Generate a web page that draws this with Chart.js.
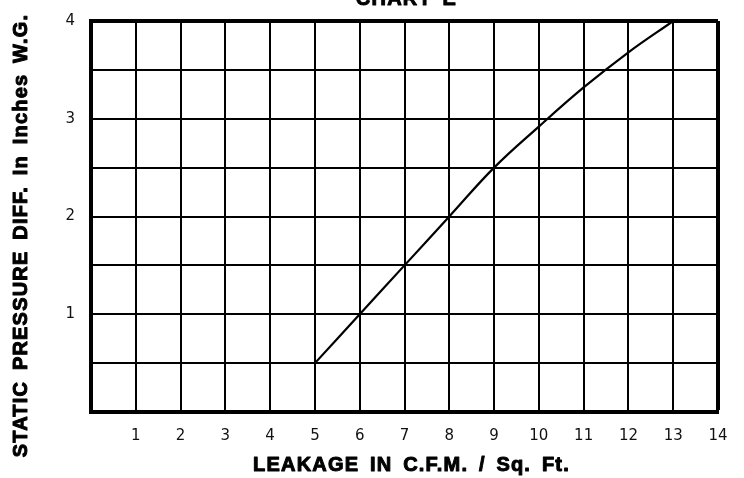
<!DOCTYPE html>
<html lang="en">
<head>
  <meta charset="UTF-8" />
  <title>Chart E</title>
  <script src="https://cdn.jsdelivr.net/npm/chart.js"></script>
  <style>
    html, body { margin: 0; padding: 0; background: #fff; overflow: hidden; }
    .wrap { position: absolute; left: 0; top: -12px; width: 744px; height: 490px; }
  </style>
</head>
<body>
  <div class="wrap"><canvas id="chartE"></canvas></div>

  <script>
    // leakage (CFM / sq ft) vs static pressure diff (in. W.G.)
    const leakage = [5, 6, 7, 8, 9, 10, 11, 12, 13];
    const pressure = [0.5, 1.0, 1.5, 2.0, 2.5, 2.92, 3.32, 3.68, 4.0];
    const xTicks = [1, 2, 3, 4, 5, 6, 7, 8, 9, 10, 11, 12, 13, 14];
    const yTicks = [1, 2, 3, 4];

    const chartTitle = "CHART E";
    const xTitle = "LEAKAGE IN C.F.M. / Sq. Ft.";
    const yTitle = "STATIC PRESSURE DIFF. In Inches W.G.";

    // the heavy, widely spaced labels are drawn by hand so they sit where the original has them
    const headings = {
      id: "headings",
      afterDraw(chart) {
        const ctx = chart.ctx;
        const area = chart.chartArea;
        const put = (text, x, y) => {
          ctx.fillText(text, x, y);
          ctx.strokeText(text, x, y);
        };
        ctx.save();
        ctx.fillStyle = "#000";
        ctx.strokeStyle = "#000";
        ctx.lineWidth = 1;
        ctx.lineJoin = "round";
        ctx.font = 'bold 20px "Liberation Sans", Arial, sans-serif';
        ctx.letterSpacing = "1.2px";
        ctx.wordSpacing = "4px";
        ctx.textAlign = "center";
        ctx.textBaseline = "alphabetic";
        const midX = (area.left + area.right) / 2;
        put(chartTitle, midX + 2, area.top - 16);
        put(xTitle, midX + 7, area.bottom + 59);
        ctx.translate(27, (area.top + area.bottom) / 2 + 19);
        ctx.rotate(-Math.PI / 2);
        put(yTitle, 0, 0);
        ctx.restore();
      },
    };

    new Chart(document.getElementById("chartE"), {
      type: "line",
      data: {
        datasets: [{
          data: leakage.map((x, i) => ({ x: x, y: pressure[i] })),
          borderColor: "#000",
          borderWidth: 2.2,
          pointRadius: 0,
          tension: 0.4,
          fill: false,
        }],
      },
      plugins: [headings],
      options: {
        responsive: true,
        maintainAspectRatio: false,
        animation: false,
        layout: { padding: { top: 33, right: 26, left: 0, bottom: 0 } },
        plugins: {
          legend: { display: false },
          tooltip: { enabled: false },
        },
        scales: {
          x: {
            type: "linear",
            min: 0,
            max: 14,
            afterFit: (s) => { s.height = 66; },
            ticks: {
              stepSize: 1,
              color: "#111",
              padding: 15,
              maxRotation: 0,
              font: { family: "DejaVu Sans", size: 15 },
              callback: (v) => (xTicks.includes(v) ? v : ""),
            },
            grid: {
              color: "#000",
              drawTicks: false,
              lineWidth: (c) => (c.tick && c.tick.value === 14 ? 4 : 2),
            },
            border: { color: "#000", width: 4 },
          },
          y: {
            type: "linear",
            min: 0,
            max: 4,
            afterFit: (s) => { s.width = 91; },
            ticks: {
              stepSize: 0.5,
              color: "#111",
              padding: 16,
              font: { family: "DejaVu Sans", size: 15 },
              callback: (v) => (yTicks.includes(v) ? v : ""),
            },
            grid: {
              color: "#000",
              drawTicks: false,
              lineWidth: (c) => (c.tick && c.tick.value === 4 ? 4 : 2),
            },
            border: { color: "#000", width: 4 },
          },
        },
      },
    });
  </script>
</body>
</html>
